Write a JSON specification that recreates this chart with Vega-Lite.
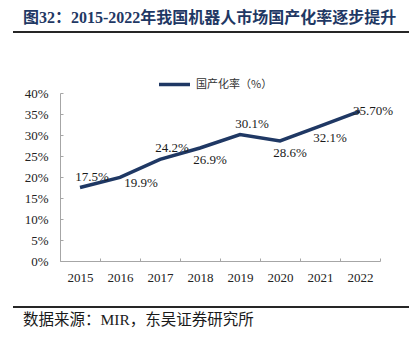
{
  "$schema": "https://vega.github.io/schema/vega-lite/v6.json",
  "padding": {"left": 13, "top": 10, "right": 0, "bottom": 0},
  "spacing": 0,
  "config": {"view": {"stroke": null}, "font": "Liberation Serif"},
  "resolve": {"legend": {"color": "independent"}},
  "datasets": {
    "d": [
      {"year": 2015, "rate": 17.5, "label": "17.5%", "series": "国产化率（%）"},
      {"year": 2016, "rate": 19.9, "label": "19.9%", "series": "国产化率（%）"},
      {"year": 2017, "rate": 24.2, "label": "24.2%", "series": "国产化率（%）"},
      {"year": 2018, "rate": 26.9, "label": "26.9%", "series": "国产化率（%）"},
      {"year": 2019, "rate": 30.1, "label": "30.1%", "series": "国产化率（%）"},
      {"year": 2020, "rate": 28.6, "label": "28.6%", "series": "国产化率（%）"},
      {"year": 2021, "rate": 32.1, "label": "32.1%", "series": "国产化率（%）"},
      {"year": 2022, "rate": 35.7, "label": "35.70%", "series": "国产化率（%）"}
    ]
  },
  "vconcat": [
    {
      "width": 398,
      "height": 1,
      "title": {"text": "图32：2015-2022年我国机器人市场国产化率逐步提升", "anchor": "start", "dx": 10, "offset": 4, "fontSize": 16, "font": "Liberation Serif, Noto Sans CJK SC", "fontWeight": "bold", "color": "#1f3864"},
      "data": {"values": []},
      "mark": {"type": "rule"},
      "encoding": {}
    },
    {
      "width": 396,
      "height": 2,
      "data": {"values": [{"a": 0, "b": 1}]},
      "mark": {"type": "rect", "fill": "#262626", "opacity": 1},
      "encoding": {
        "x": {"field": "a", "type": "quantitative", "scale": {"domain": [0, 1], "nice": false, "zero": false}, "axis": null},
        "x2": {"field": "b"},
        "y": {"field": "a", "type": "quantitative", "scale": {"domain": [0, 1], "nice": false, "zero": false}, "axis": null},
        "y2": {"field": "b"}
      }
    },
    {
      "width": 398,
      "height": 34,
      "data": {"values": []},
      "mark": {"type": "rule"},
      "encoding": {}
    },
    {
      "resolve": {"legend": {"color": "independent"}},
      "spacing": 0,
      "hconcat": [
        {
          "width": 7,
          "height": 1,
          "data": {"values": []},
          "mark": {"type": "rule"},
          "encoding": {}
        },
        {
          "width": 320,
          "height": 168,
          "data": {"name": "d"},
          "encoding": {
            "x": {
              "field": "year", "type": "ordinal",
              "scale": {"paddingInner": 0, "paddingOuter": 0},
              "axis": {"title": null, "labelAngle": 0, "tickBand": "extent", "tickSize": -3, "labelPadding": 13, "domainColor": "#a6a6a6", "tickColor": "#a6a6a6", "labelFont": "Liberation Serif", "labelFontSize": 13, "labelColor": "#222222", "grid": false}
            },
            "y": {
              "field": "rate", "type": "quantitative",
              "scale": {"domain": [0, 40]},
              "axis": {"title": null, "values": [0, 5, 10, 15, 20, 25, 30, 35, 40], "labelExpr": "datum.value + '%'", "tickSize": -3, "labelPadding": 15, "grid": false, "domainColor": "#a6a6a6", "tickColor": "#a6a6a6", "labelFont": "Liberation Serif", "labelFontSize": 13, "labelColor": "#222222", "minExtent": 40}
            }
          },
          "layer": [
            {
              "mark": {"type": "line", "strokeWidth": 3.5},
              "encoding": {
                "color": {
                  "field": "series", "type": "nominal",
                  "scale": {"range": ["#1f3864"]},
                  "legend": {"title": null, "orient": "none", "legendX": 97, "legendY": -26, "symbolType": "stroke", "symbolSize": 961, "symbolStrokeWidth": 3.5, "labelFont": "Noto Sans CJK SC", "labelFontSize": 11, "labelColor": "#333333", "labelOffset": 4}
                }
              }
            },
            {
              "transform": [{"filter": "indexof([2015, 2017, 2019], datum.year) >= 0"}],
              "mark": {"type": "text", "dx": 12, "dy": -11, "font": "Liberation Serif", "fontSize": 13, "color": "#1a1a1a"},
              "encoding": {"text": {"field": "label"}}
            },
            {
              "transform": [{"filter": "indexof([2018, 2020, 2021], datum.year) >= 0"}],
              "mark": {"type": "text", "dx": 10, "dy": 12, "font": "Liberation Serif", "fontSize": 13, "color": "#1a1a1a"},
              "encoding": {"text": {"field": "label"}}
            },
            {
              "transform": [{"filter": "datum.year == 2016"}],
              "mark": {"type": "text", "dx": 21, "dy": 6, "font": "Liberation Serif", "fontSize": 13, "color": "#1a1a1a"},
              "encoding": {"text": {"field": "label"}}
            },
            {
              "transform": [{"filter": "datum.year == 2022"}],
              "mark": {"type": "text", "dx": 13, "dy": 0, "font": "Liberation Serif", "fontSize": 13, "color": "#1a1a1a"},
              "encoding": {"text": {"field": "label"}}
            }
          ]
        }
      ]
    },
    {
      "width": 398,
      "height": 22,
      "data": {"values": []},
      "mark": {"type": "rule"},
      "encoding": {}
    },
    {
      "width": 396,
      "height": 2,
      "data": {"values": [{"a": 0, "b": 1}]},
      "mark": {"type": "rect", "fill": "#262626", "opacity": 1},
      "encoding": {
        "x": {"field": "a", "type": "quantitative", "scale": {"domain": [0, 1], "nice": false, "zero": false}, "axis": null},
        "x2": {"field": "b"},
        "y": {"field": "a", "type": "quantitative", "scale": {"domain": [0, 1], "nice": false, "zero": false}, "axis": null},
        "y2": {"field": "b"}
      }
    },
    {
      "width": 398,
      "height": 1,
      "title": {"text": "数据来源：MIR，东吴证券研究所", "orient": "bottom", "anchor": "start", "dx": 10, "offset": 4, "fontSize": 15.5, "fontWeight": "normal", "font": "Liberation Serif, Noto Sans CJK SC", "color": "#1a1a1a"},
      "data": {"values": []},
      "mark": {"type": "rule"},
      "encoding": {}
    }
  ]
}
